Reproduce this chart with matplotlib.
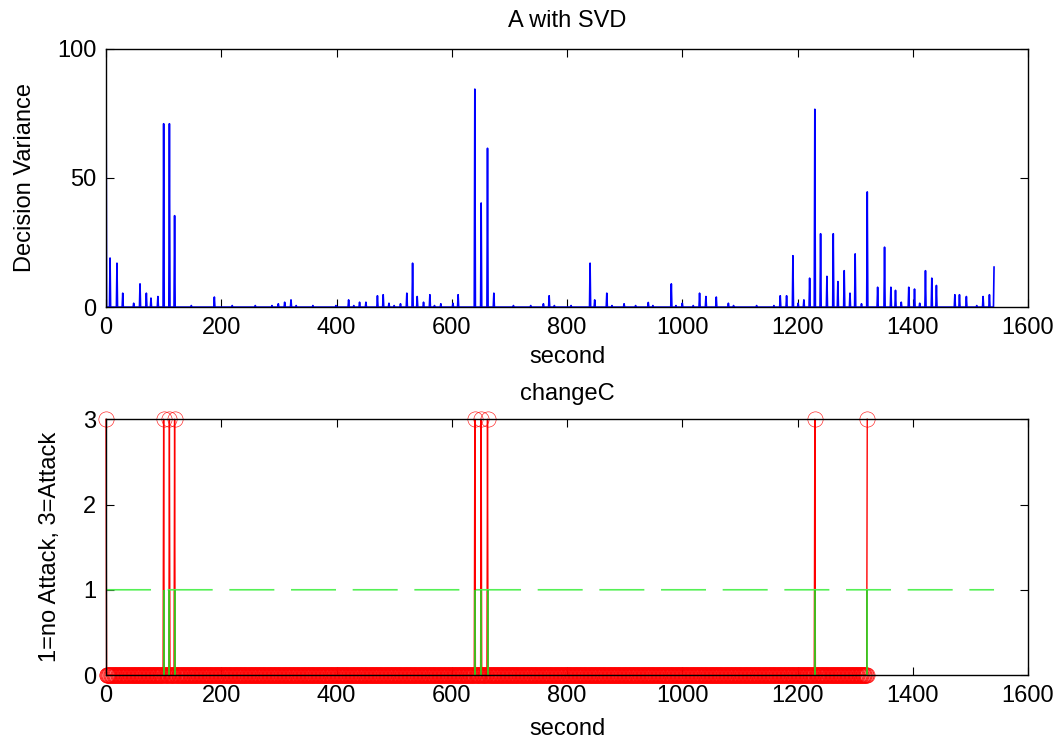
import numpy as np
import matplotlib.pyplot as plt

plt.rcParams['font.family'] = ['Liberation Sans', 'DejaVu Sans']

# Entscheidungsvarianz: Spitzen (Sekunde, Wert), sonst 0
spike_sec = [0, 7, 19, 29, 48, 59, 70, 78, 90, 100, 110, 119, 148, 188, 219, 259,
             288, 299, 310, 321, 330, 359, 399, 421, 430, 440, 451, 471, 481, 491,
             500, 511, 522, 532, 540, 551, 562, 570, 581, 602, 611, 640, 651, 662,
             673, 707, 737, 759, 769, 778, 807, 840, 848, 869, 878, 899, 919, 941,
             949, 981, 989, 1000, 1019, 1030, 1041, 1059, 1080, 1089, 1129, 1159,
             1170, 1181, 1192, 1201, 1211, 1221, 1230, 1240, 1251, 1262, 1270, 1281,
             1291, 1300, 1311, 1321, 1339, 1351, 1362, 1370, 1380, 1393, 1403, 1412,
             1422, 1433, 1441, 1473, 1481, 1493, 1511, 1522, 1533, 1541]
spike_val = [100, 19, 17, 5.4, 1.5, 9, 5.4, 3.5, 4.1, 71, 71, 35.4, 0.6, 3.9, 0.6, 0.6,
             0.6, 1.3, 1.9, 2.8, 0.6, 0.6, 0.6, 2.8, 0.6, 1.9, 1.9, 4.4, 4.8, 1.5,
             0.6, 1.3, 5.4, 17, 4.1, 1.9, 4.8, 0.6, 1.3, 1.5, 4.8, 84.4, 40.3, 61.5,
             5.4, 0.6, 0.6, 1.3, 4.4, 0.6, 0.6, 17, 2.8, 5.4, 0.6, 1.3, 0.6, 1.8,
             0.6, 9, 0.6, 1.5, 0.6, 5.4, 4.1, 3.9, 1.5, 0.6, 0.6, 0.6,
             4.4, 4.4, 19.9, 1.5, 2.8, 11.2, 76.6, 28.4, 11.9, 28.4, 9.9, 14.1,
             5.4, 20.6, 1.3, 44.6, 7.7, 23.2, 7.7, 6.5, 1.9, 7.7, 7, 1.5,
             14.1, 11.2, 8.4, 4.8, 4.8, 4.1, 0.6, 4.1, 4.8, 15.5]

# Angriffe (Wert 3), sonst 0
attack_sec = [0, 100, 110, 119, 640, 651, 662, 1230, 1321]
last_sec_state = 1321
last_sec_thresh = 1541
thresh_level = 1

t1 = np.arange(spike_sec[-1] + 1)
dv = np.zeros(len(t1))
dv[spike_sec] = spike_val

t2 = np.arange(last_sec_state + 1)
state = np.zeros(len(t2))
state[attack_sec] = 3

t3 = np.arange(last_sec_thresh + 1)
thresh = np.full(len(t3), thresh_level)

fs = 17

fig = plt.figure(figsize=(10.57, 7.40), dpi=100)
ax1 = fig.add_axes([0.1003, 0.585, 0.8723, 0.349])
ax2 = fig.add_axes([0.1003, 0.0878, 0.8723, 0.3456])

ax1.plot(t1, dv, color='blue', lw=1.2)
ax1.set_xlim(0, 1600)
ax1.set_ylim(0, 100)
ax1.set_yticks([0, 50, 100])
ax1.set_title('A with SVD', fontsize=fs, pad=16)
ax1.set_xlabel('second', fontsize=fs, labelpad=5)
ax1.set_ylabel('Decision Variance', fontsize=fs, labelpad=15)

ax2.plot(t2, state, 'r-o', lw=1.0, ms=11, mfc='none', mew=0.4)
line, = ax2.plot(t3, thresh, color='#55f055', lw=1.2, ls='--')
line.set_dashes([27, 10])
ax2.vlines(attack_sec, 0, thresh_level, color='#22dd22', lw=1.2)
ax2.set_xlim(0, 1600)
ax2.set_ylim(0, 3)
ax2.set_yticks([0, 1, 2, 3])
ax2.set_title('changeC', fontsize=fs, pad=14)
ax2.set_xlabel('second', fontsize=fs, labelpad=8)
ax2.set_ylabel('1=no Attack, 3=Attack', fontsize=fs, labelpad=16)

for ax in (ax1, ax2):
    ax.set_xticks(range(0, 1601, 200))
    ax.tick_params(direction='in', top=True, right=True, length=6, width=0.8,
                   labelsize=fs, pad=7)
    for s in ax.spines.values():
        s.set_linewidth(1.0)
    ax.patch.set_alpha(0)

for l in ax2.lines:
    l.set_clip_on(False)

plt.savefig('out.png', dpi=100)
